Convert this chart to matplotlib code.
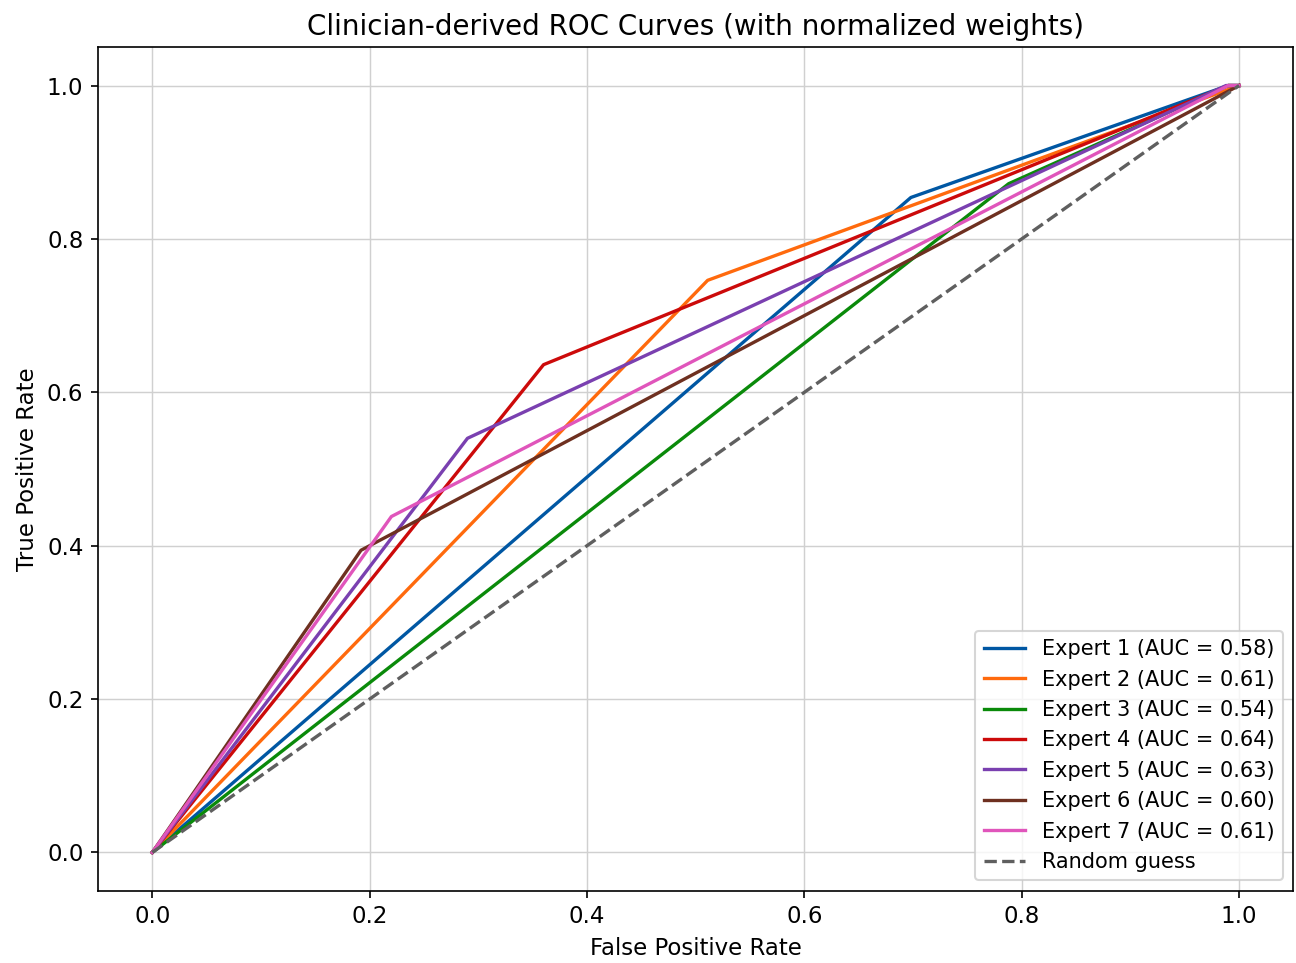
import matplotlib
matplotlib.use("Agg")
import matplotlib.pyplot as plt

experts = ["Expert 1", "Expert 2", "Expert 3", "Expert 4", "Expert 5", "Expert 6", "Expert 7"]
aucs = [0.58, 0.61, 0.54, 0.64, 0.63, 0.60, 0.61]
fpr = [
    [0.0, 0.698, 0.99, 1.0],
    [0.0, 0.511, 1.0],
    [0.0, 0.788, 0.99, 1.0],
    [0.0, 0.360, 0.99, 1.0],
    [0.0, 0.290, 0.988, 1.0],
    [0.0, 0.192, 1.0],
    [0.0, 0.220, 0.99, 1.0],
]
tpr = [
    [0.0, 0.854, 1.0, 1.0],
    [0.0, 0.746, 1.0],
    [0.0, 0.872, 1.0, 1.0],
    [0.0, 0.636, 1.0, 1.0],
    [0.0, 0.540, 1.0, 1.0],
    [0.0, 0.394, 1.0],
    [0.0, 0.438, 1.0, 1.0],
]
colors = ["#0057a3", "#ff6a0d", "#0a8a0a", "#cc0a0a", "#7a40b0", "#6e3020", "#e055bb"]

fig = plt.figure(figsize=(8.64, 6.42), dpi=150)
ax = fig.add_axes([0.0756, 0.075, 0.9224, 0.876])
for name, a, x, y, c in zip(experts, aucs, fpr, tpr, colors):
    ax.plot(x, y, color=c, lw=1.6, label=f"{name} (AUC = {a:.2f})")
ax.plot([0, 1], [0, 1], linestyle="--", color="#5f5f5f", lw=1.6, label="Random guess")
ax.set_xlim(-0.05, 1.05)
ax.set_ylim(-0.05, 1.05)
ax.grid(True, color="#d0d0d0", lw=0.7)
ax.set_axisbelow(True)
ax.tick_params(labelsize=11)
ax.set_xlabel("False Positive Rate", fontsize=11)
ax.set_ylabel("True Positive Rate", fontsize=11)
ax.set_title("Clinician-derived ROC Curves (with normalized weights)", fontsize=13.3)
ax.legend(loc="lower right", fontsize=10, labelspacing=0.5)
fig.savefig("out.png", dpi=150)
